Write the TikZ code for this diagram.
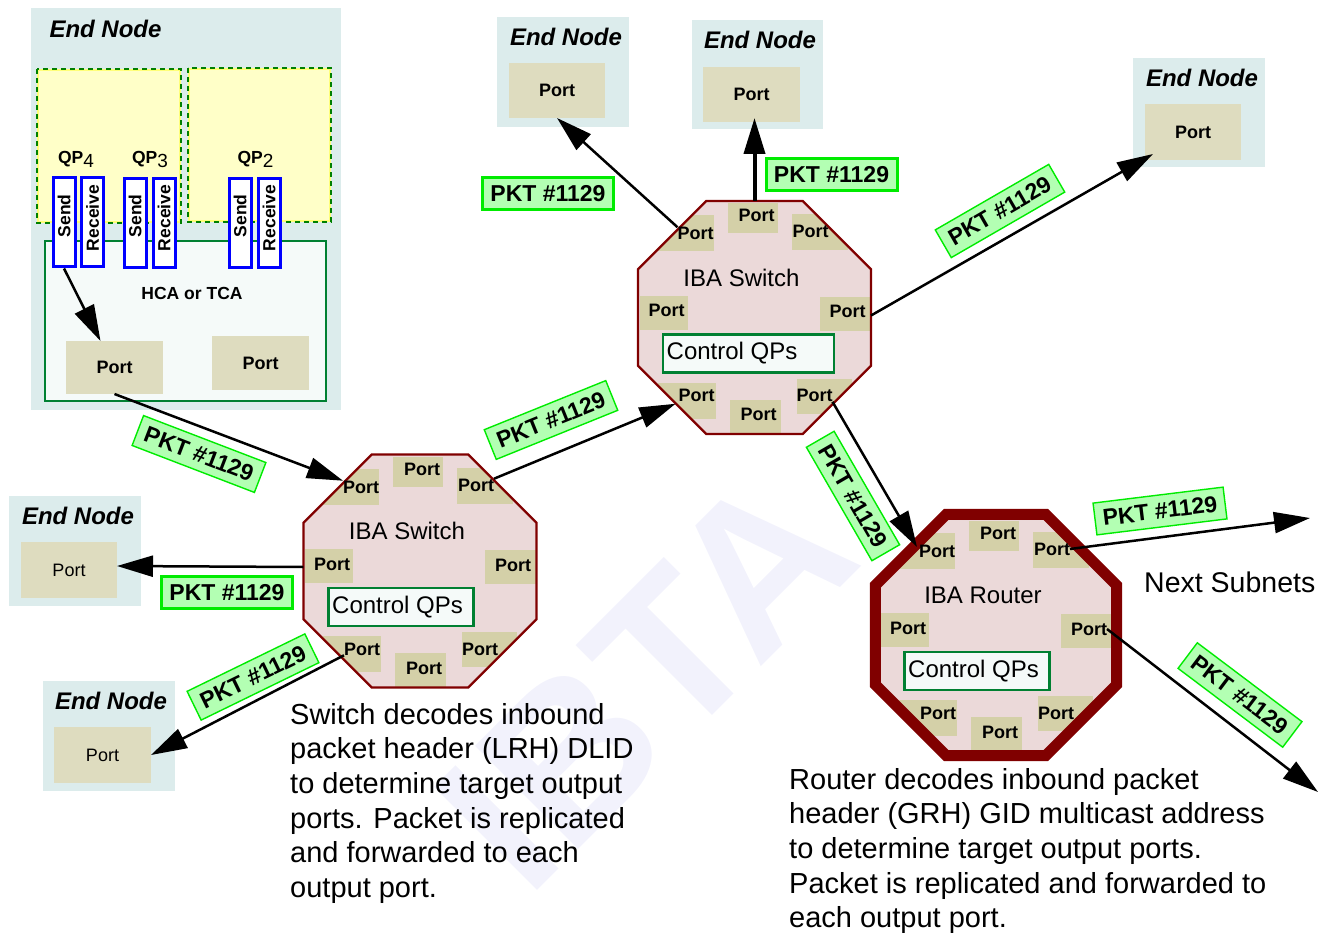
\documentclass[tikz,border=0pt]{standalone}
\usepackage{fontspec}
\setmainfont{Liberation Sans}
\usetikzlibrary{arrows.meta,calc,shapes.geometric}

\definecolor{endfill}{RGB}{220,236,236}
\definecolor{eportfill}{RGB}{222,220,191}
\definecolor{sportfill}{RGB}{212,208,168}
\definecolor{swfill}{RGB}{235,217,217}
\definecolor{swred}{RGB}{128,0,0}
\definecolor{qpyellow}{RGB}{255,255,200}
\definecolor{qpedge}{RGB}{255,255,120}
\definecolor{dgreen}{RGB}{0,128,0}
\definecolor{hcafill}{RGB}{245,250,249}
\definecolor{ctrlgreen}{RGB}{0,128,50}
\definecolor{pktfill}{RGB}{179,255,179}
\definecolor{pktline}{RGB}{0,235,0}
\definecolor{wmcol}{RGB}{242,242,252}
\definecolor{srblue}{RGB}{0,0,255}

\tikzset{
  endbox/.style={fill=endfill, inner sep=0, outer sep=0},
  eport/.style={fill=eportfill, inner sep=0, outer sep=0, font=\fontsize{18}{20}\selectfont\bfseries},
  eportr/.style={eport, font=\fontsize{18}{20}\selectfont},
  endlab/.style={font=\fontsize{24}{26}\selectfont\bfseries\itshape, inner sep=0},
  porttxt/.style={font=\fontsize{18}{20}\selectfont\bfseries, inner sep=0, outer sep=0},
  devlabel/.style={font=\fontsize{24}{26}\selectfont, inner sep=0},
  ctrlbox/.style={draw=ctrlgreen, line width=2.5pt, fill=hcafill, minimum height=38, inner sep=0},
  sw/.style={regular polygon, regular polygon sides=8, minimum size=252.2, inner sep=0, outer sep=0, fill=swfill},
  sw edge/.style={draw=swred, line width=2.2pt, line join=miter},
  rt/.style={regular polygon, regular polygon sides=8, minimum size=260.9, inner sep=0, outer sep=0, fill=swfill},
  rt edge/.style={draw=swred, line width=11pt, line join=miter},
  qpbox/.style={fill=qpyellow, draw=qpedge, line width=2pt, inner sep=0},
  qpdash/.style={draw=dgreen, line width=2pt, dash pattern=on 5pt off 4pt},
  hcabox/.style={fill=hcafill, draw=ctrlgreen, line width=2.5pt, inner sep=0},
  srbox/.style={draw=srblue, fill=white, line width=3pt, minimum width=22, minimum height=89, inner sep=0},
  srtxt/.style={font=\fontsize{17.5}{18}\selectfont\bfseries, inner sep=0, rotate=90},
  qplab/.style={font=\fontsize{17.5}{18}\selectfont\bfseries, inner sep=0},
  pkt/.style={draw=pktline, fill=pktfill, line width=3pt, minimum width=131, minimum height=32, inner sep=0, font=\fontsize{23}{23}\selectfont\bfseries},
  pktr/.style={pkt, line width=1.4pt},
  arr/.style={draw=black, line width=2.5pt, -{Triangle[length=36pt,width=21pt]}},
  bodytxt/.style={align=left, inner sep=0, font=\fontsize{29}{34.6}\selectfont},
}

% #1 name, #2 x, #3 y, #4 label, #5 control box width, #6 octagon style
\newcommand\drawdevice[6]{%
  \node[#6] (#1) at (#2,#3) {};
  \begin{scope}
    \clip (#1.corner 1) -- (#1.corner 2) -- (#1.corner 3) -- (#1.corner 4) -- (#1.corner 5) -- (#1.corner 6) -- (#1.corner 7) -- (#1.corner 8) -- cycle;
    \begin{scope}[shift={(#2,#3)}]
      \fill[sportfill] (-27,-114) rectangle (23,-84);
      \fill[sportfill] (-98,-102) rectangle (-41,-66);
      \fill[sportfill] (37,-103) rectangle (93,-67);
      \fill[sportfill] (-115,-22) rectangle (-67,12);
      \fill[sportfill] (65,-21) rectangle (117,13);
      \fill[sportfill] (-97,65) rectangle (-39,101);
      \fill[sportfill] (-25,82) rectangle (26,116);
      \fill[sportfill] (42,61) rectangle (97,96);
    \end{scope}
  \end{scope}
  \draw[#6 edge] (#1.corner 1) -- (#1.corner 2) -- (#1.corner 3) -- (#1.corner 4) -- (#1.corner 5) -- (#1.corner 6) -- (#1.corner 7) -- (#1.corner 8) -- cycle;
  \begin{scope}[shift={(#2,#3)}]
    \node[porttxt] (#1-t) at (2,-102) {Port};
    \node[porttxt] (#1-tl) at (-59,-84) {Port};
    \node[porttxt] (#1-tr) at (56,-86) {Port};
    \node[porttxt] (#1-l) at (-88,-7) {Port};
    \node[porttxt] (#1-r) at (93,-6) {Port};
    \node[porttxt] (#1-bl) at (-58,78) {Port};
    \node[porttxt] (#1-b) at (4,97) {Port};
    \node[porttxt] (#1-br) at (60,78) {Port};
    \node[devlabel] (#1-lab) at (-13,-40) {#4};
    \node[ctrlbox, minimum width=#5, anchor=west] (#1-ctrl) at (-93,36) {};
    \node[devlabel, anchor=west] (#1-ctrltxt) at (-88,36) {Control QPs};
  \end{scope}
}

\begin{document}
\begin{tikzpicture}[x=1pt,y=-1pt]
\useasboundingbox (0,0) rectangle (1327,933);

% watermark
\node[rotate=45, text=wmcol, inner sep=0, font=\fontsize{212}{212}\selectfont\bfseries] (wm) at (645,680) {IBTA};

% ---------- top-left end node with HCA ----------
\node[endbox, minimum width=310, minimum height=402] (endTL) at (186,209) {};
\node[endlab] (endTLlab) at (105.5,29) {End Node};
\node[qpbox, minimum width=142, minimum height=152] (qpA) at (109,146) {};
\draw[qpdash] (qpA.north west) rectangle (qpA.south east);
\node[qpbox, minimum width=141, minimum height=152] (qpB) at (259.5,145) {};
\draw[qpdash] (qpB.north west) rectangle (qpB.south east);
\node[hcabox, minimum width=281, minimum height=160] (hca) at (185.5,321) {};
\node[qplab] (qp4) at (76,159) {QP\raisebox{-4pt}{\fontsize{19}{19}\selectfont\mdseries 4}};
\node[qplab] (qp3) at (150,159) {QP\raisebox{-4pt}{\fontsize{19}{19}\selectfont\mdseries 3}};
\node[qplab] (qp2) at (255.5,159) {QP\raisebox{-4pt}{\fontsize{19}{19}\selectfont\mdseries 2}};
\node[srbox] (q4s) at (64,222.5) {};
\node[srbox] (q4r) at (92.5,222.5) {};
\node[srbox] (q3s) at (135,223) {};
\node[srbox] (q3r) at (164,223) {};
\node[srbox] (q2s) at (240,223) {};
\node[srbox] (q2r) at (269,223) {};
\node[srtxt] at (64,216) {Send};
\node[srtxt] at (92.5,218) {Receive};
\node[srtxt] at (135,216) {Send};
\node[srtxt] at (164,218) {Receive};
\node[srtxt] at (240,216) {Send};
\node[srtxt] at (269,218) {Receive};
\node[porttxt, font=\fontsize{17.5}{18}\selectfont\bfseries] (hcalab) at (192,293) {HCA or TCA};
\node[eport, minimum width=97, minimum height=53] (hp1) at (114.5,367.5) {Port};
\node[eport, minimum width=97, minimum height=54] (hp2) at (260.5,363) {Port};

% ---------- other end nodes ----------
\node[endbox, minimum width=132, minimum height=110] (endA) at (563,72) {};
\node[endlab] at (566,37) {End Node};
\node[eport, minimum width=96, minimum height=55] (epA) at (557,90.5) {Port};

\node[endbox, minimum width=131, minimum height=109] (endB) at (757.5,74.5) {};
\node[endlab] at (760,40) {End Node};
\node[eport, minimum width=97, minimum height=55] (epB) at (751.5,94.5) {Port};

\node[endbox, minimum width=132, minimum height=109] (endC) at (1199,112.5) {};
\node[endlab] at (1202,78) {End Node};
\node[eport, minimum width=96, minimum height=56] (epC) at (1193,132) {Port};

\node[endbox, minimum width=132, minimum height=110] (endD) at (75,551) {};
\node[endlab] at (78,516) {End Node};
\node[eportr, minimum width=96, minimum height=56] (epD) at (69,570) {Port};

\node[endbox, minimum width=132, minimum height=110] (endE) at (109,736) {};
\node[endlab] at (111,701) {End Node};
\node[eportr, minimum width=97, minimum height=56] (epE) at (102.5,755) {Port};

% ---------- switches and router ----------
\drawdevice{s1}{420}{571}{IBA Switch}{145}{sw}
\drawdevice{s2}{754.5}{317.5}{IBA Switch}{171}{sw}
\drawdevice{r}{996}{635}{IBA Router}{145}{rt}

% ---------- free ends ----------
\coordinate (ns1) at (1310,518);
\coordinate (ns2) at (1318,792);

% ---------- connectors ----------
\draw[arr] (q4s.south) -- ($(hp1.north)+(-14,0)$);
\draw[arr] (hp1.south) -- (s1-tl.north west);
\draw[arr] (s1-tr.north east) -- ($(s2-bl.south west)+(-3,2)$);
\draw[arr] ($(s1.west)+(0,-4)$) -- ($(epD.east)+(0,-4)$);
\draw[arr] (s1-bl.south west) -- (epE.east);
\draw[arr] (s2-tl.north west) -- (epA.south);
\draw[arr, line width=4pt] (s2.north) -- ($(epB.south)+(3,-4)$);
\draw[arr] ($(s2.east)+(0,-2)$) -- ($(epC.south west)+(8,-6)$);
\draw[arr] (s2-br.south east) -- ($(r-tl.west)+(-2,-4)$);
\draw[arr] (r-tr.east) -- (ns1);
\draw[arr] (r-r.east) -- (ns2);

% ---------- packet labels ----------
\node[pktr, rotate=-21] (k1) at (199,454) {PKT \#1129};
\node[pktr, rotate=22] (k2) at (551,420) {PKT \#1129};
\node[pkt] (k3) at (227,592.5) {PKT \#1129};
\node[pktr, rotate=26] (k4) at (253,677) {PKT \#1129};
\node[pkt] (k5) at (548,194) {PKT \#1129};
\node[pkt] (k6) at (831.5,174.5) {PKT \#1129};
\node[pktr, rotate=30] (k7) at (1000,211) {PKT \#1129};
\node[pktr, rotate=-60] (k8) at (853,496) {PKT \#1129};
\node[pktr, rotate=7] (k9) at (1160,511) {PKT \#1129};
\node[pktr, rotate=-37] (k10) at (1240,695) {PKT \#1129};

% ---------- texts ----------
\node[font=\fontsize{28.5}{30}\selectfont, anchor=west, inner sep=0] (nxt) at (1144,582) {Next Subnets};
\node[bodytxt, anchor=north west] (swtxt) at (290,703) {Switch decodes inbound\\packet header (LRH) DLID\\to determine target output\\ports. Packet is replicated\\and forwarded to each\\output port.};
\node[bodytxt, anchor=north west] (rttxt) at (789,768) {Router decodes inbound packet\\header (GRH) GID multicast address\\to determine target output ports.\\Packet is replicated and forwarded to\\each output port.};
\end{tikzpicture}
\end{document}
